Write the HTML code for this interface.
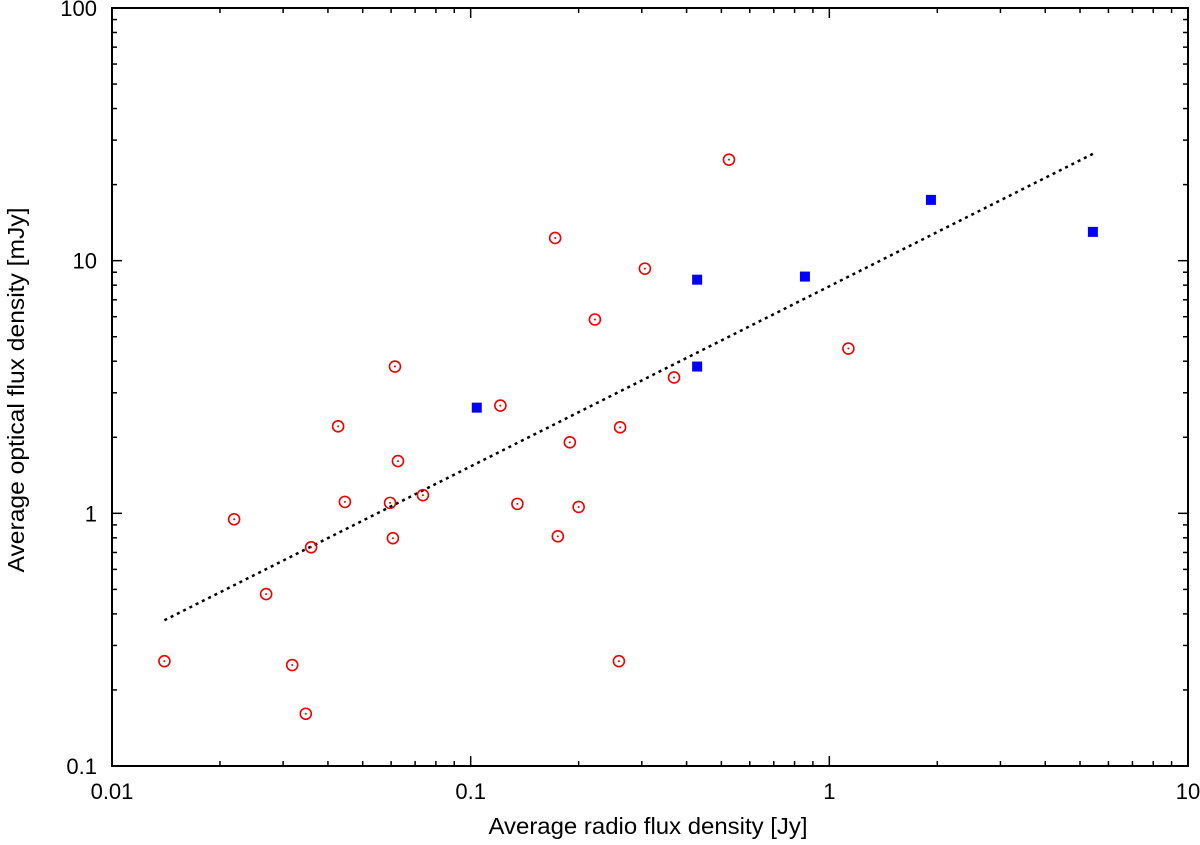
<!DOCTYPE html>
<html><head><meta charset="utf-8"><style>
body{margin:0;background:#fff;}
svg text{font-family:"Liberation Sans",sans-serif;fill:#000;}
</style></head><body>
<svg id="chart" width="1200" height="840" xmlns="http://www.w3.org/2000/svg">
<rect width="1200" height="840" fill="#fff"/>
<g id="ticks"></g>
<g id="marks"></g>
<rect x="112" y="8" width="1076" height="758" fill="none" stroke="#000" stroke-width="2"/>
<text x="648" y="834" font-size="23" text-anchor="middle" textLength="319" lengthAdjust="spacingAndGlyphs">Average radio flux density [Jy]</text>
<text transform="translate(24,390) rotate(-90)" font-size="23" text-anchor="middle" textLength="365" lengthAdjust="spacingAndGlyphs">Average optical flux density [mJy]</text>
</svg>
<script>
const xTicks=[0.01,0.1,1,10];
const xTickLabels=["0.01","0.1","1","10"];
const yTicks=[0.1,1,10,100];
const yTickLabels=["0.1","1","10","100"];
const redX=[0.014,0.0219,0.0269,0.0318,0.0347,0.0359,0.0427,0.0446,0.0596,0.0607,0.0615,0.0627,0.0736,0.121,0.135,0.172,0.175,0.189,0.200,0.222,0.259,0.261,0.306,0.369,0.525,1.13];
const redY=[0.260,0.947,0.479,0.251,0.161,0.734,2.21,1.11,1.10,0.797,3.81,1.61,1.18,2.67,1.09,12.3,0.811,1.91,1.06,5.85,0.260,2.19,9.30,3.45,25.1,4.49];
const blueX=[0.104,0.428,0.428,0.855,1.92,5.43];
const blueY=[2.62,8.41,3.81,8.65,17.4,13.0];
const fitA=7.92, fitB=0.713;
const fitRange=[0.014,5.5];

const NS="http://www.w3.org/2000/svg";
const L=112,R=1188,T=8,B=766;
function xs(v){return L+(Math.log10(v)+2)/3*(R-L);}
function ys(v){return B-(Math.log10(v)+1)/3*(B-T);}
function mk(tag,attrs,parent){const e=document.createElementNS(NS,tag);for(const k in attrs)e.setAttribute(k,attrs[k]);parent.appendChild(e);return e;}
const tg=document.getElementById('ticks');
for(let d=-2;d<1;d++){for(let m=1;m<10;m++){const v=m*Math.pow(10,d);const x=xs(v);const len=m===1?10:5;
 const t1=mk('line',{x1:x,x2:x,y1:B,y2:B-len,stroke:'#000','stroke-width':1.5},tg);
 
 
 const t2=mk('line',{x1:x,x2:x,y1:T,y2:T+len,stroke:'#000','stroke-width':1.5},tg);
 
 }}
for(let d=-1;d<2;d++){for(let m=1;m<10;m++){const v=m*Math.pow(10,d);const y=ys(v);const len=m===1?10:5;
 const t1=mk('line',{x1:L,x2:L+len,y1:y,y2:y,stroke:'#000','stroke-width':1.5},tg);
 
 
 const t2=mk('line',{x1:R,x2:R-len,y1:y,y2:y,stroke:'#000','stroke-width':1.5},tg);
 
 }}
xTicks.forEach((v,i)=>{const t=mk('text',{x:xs(v),y:799,'font-size':22,'text-anchor':'middle'},tg);t.textContent=xTickLabels[i];
 
 });
yTicks.forEach((v,i)=>{const t=mk('text',{x:97,y:ys(v)+8,'font-size':22,'text-anchor':'end'},tg);t.textContent=yTickLabels[i];
 
 });
const mg=document.getElementById('marks');
const fl=mk('line',{x1:xs(fitRange[0]),y1:ys(fitA*Math.pow(fitRange[0],fitB)),x2:xs(fitRange[1]),y2:ys(fitA*Math.pow(fitRange[1],fitB)),stroke:'#000','stroke-width':2.5,'stroke-dasharray':'3,4'},mg);


redX.forEach((v,i)=>{const g=mk('g',{},mg);
 
 
 mk('circle',{cx:xs(v),cy:ys(redY[i]),r:5.5,fill:'none',stroke:'#e00','stroke-width':1.6},g);
 mk('circle',{cx:xs(v),cy:ys(redY[i]),r:1,fill:'#e00'},g);});
blueX.forEach((v,i)=>{const r=mk('rect',{x:xs(v)-5,y:ys(blueY[i])-5,width:10,height:10,fill:'#00f'},mg);
 
 });
</script>
</body></html>
